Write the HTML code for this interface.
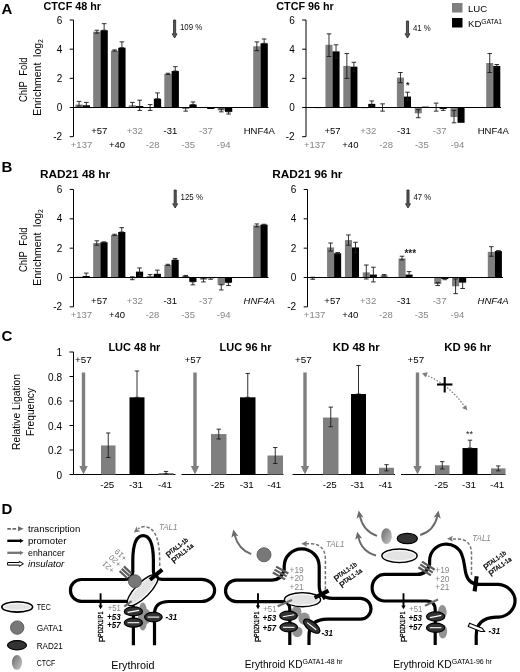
<!DOCTYPE html>
<html><head><meta charset="utf-8"><title>Figure</title>
<style>html,body{margin:0;padding:0;background:#fff}svg{display:block;will-change:transform}text{font-family:"Liberation Sans",sans-serif}</style></head>
<body>
<svg width="520" height="672" viewBox="0 0 520 672" font-family='"Liberation Sans", sans-serif'>
<rect width="520" height="672" fill="#fff"/>
<rect x="75.40" y="104.58" width="7.30" height="2.92" fill="#7f7f7f"/>
<line x1="79.05" y1="106.04" x2="79.05" y2="101.38" stroke="#1a1a1a" stroke-width="0.9" />
<line x1="76.75" y1="106.04" x2="81.35" y2="106.04" stroke="#1a1a1a" stroke-width="0.9" />
<line x1="76.75" y1="101.38" x2="81.35" y2="101.38" stroke="#1a1a1a" stroke-width="0.9" />
<rect x="82.70" y="105.31" width="7.30" height="2.19" fill="#000"/>
<line x1="86.35" y1="106.77" x2="86.35" y2="102.40" stroke="#1a1a1a" stroke-width="0.9" />
<line x1="84.05" y1="106.77" x2="88.65" y2="106.77" stroke="#1a1a1a" stroke-width="0.9" />
<line x1="84.05" y1="102.40" x2="88.65" y2="102.40" stroke="#1a1a1a" stroke-width="0.9" />
<rect x="93.18" y="31.68" width="7.30" height="75.82" fill="#7f7f7f"/>
<line x1="96.83" y1="33.14" x2="96.83" y2="30.23" stroke="#1a1a1a" stroke-width="0.9" />
<line x1="94.53" y1="33.14" x2="99.13" y2="33.14" stroke="#1a1a1a" stroke-width="0.9" />
<line x1="94.53" y1="30.23" x2="99.13" y2="30.23" stroke="#1a1a1a" stroke-width="0.9" />
<rect x="100.48" y="30.23" width="7.30" height="77.27" fill="#000"/>
<line x1="104.13" y1="30.23" x2="104.13" y2="23.67" stroke="#1a1a1a" stroke-width="0.9" />
<line x1="101.83" y1="30.23" x2="106.43" y2="30.23" stroke="#1a1a1a" stroke-width="0.9" />
<line x1="101.83" y1="23.67" x2="106.43" y2="23.67" stroke="#1a1a1a" stroke-width="0.9" />
<rect x="110.96" y="50.64" width="7.30" height="56.86" fill="#7f7f7f"/>
<line x1="114.61" y1="51.08" x2="114.61" y2="49.91" stroke="#1a1a1a" stroke-width="0.9" />
<line x1="112.31" y1="51.08" x2="116.91" y2="51.08" stroke="#1a1a1a" stroke-width="0.9" />
<line x1="112.31" y1="49.91" x2="116.91" y2="49.91" stroke="#1a1a1a" stroke-width="0.9" />
<rect x="118.26" y="47.72" width="7.30" height="59.78" fill="#000"/>
<line x1="121.91" y1="47.72" x2="121.91" y2="41.89" stroke="#1a1a1a" stroke-width="0.9" />
<line x1="119.61" y1="47.72" x2="124.21" y2="47.72" stroke="#1a1a1a" stroke-width="0.9" />
<line x1="119.61" y1="41.89" x2="124.21" y2="41.89" stroke="#1a1a1a" stroke-width="0.9" />
<rect x="128.74" y="105.31" width="7.30" height="2.19" fill="#7f7f7f"/>
<line x1="132.39" y1="107.50" x2="132.39" y2="102.40" stroke="#1a1a1a" stroke-width="0.9" />
<line x1="130.09" y1="107.50" x2="134.69" y2="107.50" stroke="#1a1a1a" stroke-width="0.9" />
<line x1="130.09" y1="102.40" x2="134.69" y2="102.40" stroke="#1a1a1a" stroke-width="0.9" />
<rect x="136.04" y="106.04" width="7.30" height="1.46" fill="#000"/>
<line x1="139.69" y1="110.42" x2="139.69" y2="100.21" stroke="#1a1a1a" stroke-width="0.9" />
<line x1="137.39" y1="110.42" x2="141.99" y2="110.42" stroke="#1a1a1a" stroke-width="0.9" />
<line x1="137.39" y1="100.21" x2="141.99" y2="100.21" stroke="#1a1a1a" stroke-width="0.9" />
<rect x="146.52" y="107.50" width="7.30" height="0.00" fill="#7f7f7f"/>
<line x1="150.17" y1="110.42" x2="150.17" y2="104.58" stroke="#1a1a1a" stroke-width="0.9" />
<line x1="147.87" y1="110.42" x2="152.47" y2="110.42" stroke="#1a1a1a" stroke-width="0.9" />
<line x1="147.87" y1="104.58" x2="152.47" y2="104.58" stroke="#1a1a1a" stroke-width="0.9" />
<rect x="153.82" y="98.75" width="7.30" height="8.75" fill="#000"/>
<line x1="157.47" y1="98.75" x2="157.47" y2="92.92" stroke="#1a1a1a" stroke-width="0.9" />
<line x1="155.17" y1="98.75" x2="159.77" y2="98.75" stroke="#1a1a1a" stroke-width="0.9" />
<line x1="155.17" y1="92.92" x2="159.77" y2="92.92" stroke="#1a1a1a" stroke-width="0.9" />
<rect x="164.30" y="73.97" width="7.30" height="33.53" fill="#7f7f7f"/>
<line x1="167.95" y1="74.40" x2="167.95" y2="73.24" stroke="#1a1a1a" stroke-width="0.9" />
<line x1="165.65" y1="74.40" x2="170.25" y2="74.40" stroke="#1a1a1a" stroke-width="0.9" />
<line x1="165.65" y1="73.24" x2="170.25" y2="73.24" stroke="#1a1a1a" stroke-width="0.9" />
<rect x="171.60" y="71.05" width="7.30" height="36.45" fill="#000"/>
<line x1="175.25" y1="71.05" x2="175.25" y2="66.68" stroke="#1a1a1a" stroke-width="0.9" />
<line x1="172.95" y1="71.05" x2="177.55" y2="71.05" stroke="#1a1a1a" stroke-width="0.9" />
<line x1="172.95" y1="66.68" x2="177.55" y2="66.68" stroke="#1a1a1a" stroke-width="0.9" />
<rect x="182.08" y="107.50" width="7.30" height="1.46" fill="#7f7f7f"/>
<line x1="185.73" y1="111.14" x2="185.73" y2="107.50" stroke="#1a1a1a" stroke-width="0.9" />
<line x1="183.43" y1="111.14" x2="188.03" y2="111.14" stroke="#1a1a1a" stroke-width="0.9" />
<line x1="183.43" y1="107.50" x2="188.03" y2="107.50" stroke="#1a1a1a" stroke-width="0.9" />
<rect x="189.38" y="104.58" width="7.30" height="2.92" fill="#000"/>
<line x1="193.03" y1="104.58" x2="193.03" y2="101.96" stroke="#1a1a1a" stroke-width="0.9" />
<line x1="190.73" y1="104.58" x2="195.33" y2="104.58" stroke="#1a1a1a" stroke-width="0.9" />
<line x1="190.73" y1="101.96" x2="195.33" y2="101.96" stroke="#1a1a1a" stroke-width="0.9" />
<rect x="199.86" y="107.50" width="7.30" height="0.58" fill="#7f7f7f"/>
<rect x="207.16" y="107.50" width="7.30" height="1.46" fill="#000"/>
<rect x="217.64" y="107.50" width="7.30" height="2.92" fill="#7f7f7f"/>
<line x1="221.29" y1="111.87" x2="221.29" y2="108.96" stroke="#1a1a1a" stroke-width="0.9" />
<line x1="218.99" y1="111.87" x2="223.59" y2="111.87" stroke="#1a1a1a" stroke-width="0.9" />
<line x1="218.99" y1="108.96" x2="223.59" y2="108.96" stroke="#1a1a1a" stroke-width="0.9" />
<rect x="224.94" y="107.50" width="7.30" height="4.37" fill="#000"/>
<line x1="228.59" y1="114.06" x2="228.59" y2="111.87" stroke="#1a1a1a" stroke-width="0.9" />
<line x1="226.29" y1="114.06" x2="230.89" y2="114.06" stroke="#1a1a1a" stroke-width="0.9" />
<line x1="226.29" y1="111.87" x2="230.89" y2="111.87" stroke="#1a1a1a" stroke-width="0.9" />
<rect x="253.20" y="46.26" width="7.30" height="61.24" fill="#7f7f7f"/>
<line x1="256.85" y1="50.64" x2="256.85" y2="41.89" stroke="#1a1a1a" stroke-width="0.9" />
<line x1="254.55" y1="50.64" x2="259.15" y2="50.64" stroke="#1a1a1a" stroke-width="0.9" />
<line x1="254.55" y1="41.89" x2="259.15" y2="41.89" stroke="#1a1a1a" stroke-width="0.9" />
<rect x="260.50" y="43.35" width="7.30" height="64.15" fill="#000"/>
<line x1="264.15" y1="43.35" x2="264.15" y2="38.97" stroke="#1a1a1a" stroke-width="0.9" />
<line x1="261.85" y1="43.35" x2="266.45" y2="43.35" stroke="#1a1a1a" stroke-width="0.9" />
<line x1="261.85" y1="38.97" x2="266.45" y2="38.97" stroke="#1a1a1a" stroke-width="0.9" />
<line x1="73.50" y1="20.02" x2="73.50" y2="136.66" stroke="#000" stroke-width="1" />
<line x1="73.50" y1="107.50" x2="268.50" y2="107.50" stroke="#000" stroke-width="1" />
<line x1="69.70" y1="20.02" x2="73.50" y2="20.02" stroke="#000" stroke-width="1" />
<text x="62.20" y="23.62" font-size="10" fill="#000" text-anchor="end" font-weight="normal" font-style="normal" >6</text>
<line x1="69.70" y1="49.18" x2="73.50" y2="49.18" stroke="#000" stroke-width="1" />
<text x="62.20" y="52.78" font-size="10" fill="#000" text-anchor="end" font-weight="normal" font-style="normal" >4</text>
<line x1="69.70" y1="78.34" x2="73.50" y2="78.34" stroke="#000" stroke-width="1" />
<text x="62.20" y="81.94" font-size="10" fill="#000" text-anchor="end" font-weight="normal" font-style="normal" >2</text>
<line x1="69.70" y1="107.50" x2="73.50" y2="107.50" stroke="#000" stroke-width="1" />
<text x="62.20" y="111.10" font-size="10" fill="#000" text-anchor="end" font-weight="normal" font-style="normal" >0</text>
<line x1="69.70" y1="136.66" x2="73.50" y2="136.66" stroke="#000" stroke-width="1" />
<text x="62.20" y="140.26" font-size="10" fill="#000" text-anchor="end" font-weight="normal" font-style="normal" >-2</text>
<text x="81.50" y="147.70" font-size="9.5" fill="#868686" text-anchor="middle" font-weight="normal" font-style="normal" >+137</text>
<text x="99.28" y="133.70" font-size="9.5" fill="#000" text-anchor="middle" font-weight="normal" font-style="normal" >+57</text>
<text x="117.06" y="147.70" font-size="9.5" fill="#000" text-anchor="middle" font-weight="normal" font-style="normal" >+40</text>
<text x="134.84" y="133.70" font-size="9.5" fill="#868686" text-anchor="middle" font-weight="normal" font-style="normal" >+32</text>
<text x="152.62" y="147.70" font-size="9.5" fill="#868686" text-anchor="middle" font-weight="normal" font-style="normal" >-28</text>
<text x="170.40" y="133.70" font-size="9.5" fill="#000" text-anchor="middle" font-weight="normal" font-style="normal" >-31</text>
<text x="188.18" y="147.70" font-size="9.5" fill="#868686" text-anchor="middle" font-weight="normal" font-style="normal" >-35</text>
<text x="205.96" y="133.70" font-size="9.5" fill="#868686" text-anchor="middle" font-weight="normal" font-style="normal" >-37</text>
<text x="223.74" y="147.70" font-size="9.5" fill="#868686" text-anchor="middle" font-weight="normal" font-style="normal" >-94</text>
<text x="259.30" y="133.70" font-size="9.5" fill="#000" text-anchor="middle" font-weight="normal" font-style="normal" >HNF4A</text>
<rect x="314.65" y="107.50" width="7.05" height="0.58" fill="#000"/>
<rect x="325.46" y="44.81" width="7.05" height="62.69" fill="#7f7f7f"/>
<line x1="328.99" y1="56.47" x2="328.99" y2="33.87" stroke="#1a1a1a" stroke-width="0.9" />
<line x1="326.69" y1="56.47" x2="331.29" y2="56.47" stroke="#1a1a1a" stroke-width="0.9" />
<line x1="326.69" y1="33.87" x2="331.29" y2="33.87" stroke="#1a1a1a" stroke-width="0.9" />
<rect x="332.51" y="51.37" width="7.05" height="56.13" fill="#000"/>
<line x1="336.04" y1="57.93" x2="336.04" y2="44.81" stroke="#1a1a1a" stroke-width="0.9" />
<line x1="333.74" y1="57.93" x2="338.34" y2="57.93" stroke="#1a1a1a" stroke-width="0.9" />
<line x1="333.74" y1="44.81" x2="338.34" y2="44.81" stroke="#1a1a1a" stroke-width="0.9" />
<rect x="343.32" y="65.95" width="7.05" height="41.55" fill="#7f7f7f"/>
<line x1="346.85" y1="78.34" x2="346.85" y2="53.55" stroke="#1a1a1a" stroke-width="0.9" />
<line x1="344.55" y1="78.34" x2="349.15" y2="78.34" stroke="#1a1a1a" stroke-width="0.9" />
<line x1="344.55" y1="53.55" x2="349.15" y2="53.55" stroke="#1a1a1a" stroke-width="0.9" />
<rect x="350.37" y="66.68" width="7.05" height="40.82" fill="#000"/>
<line x1="353.90" y1="71.05" x2="353.90" y2="62.30" stroke="#1a1a1a" stroke-width="0.9" />
<line x1="351.60" y1="71.05" x2="356.20" y2="71.05" stroke="#1a1a1a" stroke-width="0.9" />
<line x1="351.60" y1="62.30" x2="356.20" y2="62.30" stroke="#1a1a1a" stroke-width="0.9" />
<rect x="361.18" y="107.50" width="7.05" height="0.73" fill="#7f7f7f"/>
<rect x="368.23" y="103.86" width="7.05" height="3.64" fill="#000"/>
<line x1="371.75" y1="106.04" x2="371.75" y2="100.94" stroke="#1a1a1a" stroke-width="0.9" />
<line x1="369.45" y1="106.04" x2="374.06" y2="106.04" stroke="#1a1a1a" stroke-width="0.9" />
<line x1="369.45" y1="100.94" x2="374.06" y2="100.94" stroke="#1a1a1a" stroke-width="0.9" />
<rect x="379.04" y="107.50" width="7.05" height="0.00" fill="#7f7f7f"/>
<line x1="382.56" y1="111.14" x2="382.56" y2="103.86" stroke="#1a1a1a" stroke-width="0.9" />
<line x1="380.26" y1="111.14" x2="384.87" y2="111.14" stroke="#1a1a1a" stroke-width="0.9" />
<line x1="380.26" y1="103.86" x2="384.87" y2="103.86" stroke="#1a1a1a" stroke-width="0.9" />
<rect x="386.09" y="107.50" width="7.05" height="0.44" fill="#000"/>
<rect x="396.90" y="77.61" width="7.05" height="29.89" fill="#7f7f7f"/>
<line x1="400.43" y1="82.71" x2="400.43" y2="72.51" stroke="#1a1a1a" stroke-width="0.9" />
<line x1="398.12" y1="82.71" x2="402.73" y2="82.71" stroke="#1a1a1a" stroke-width="0.9" />
<line x1="398.12" y1="72.51" x2="402.73" y2="72.51" stroke="#1a1a1a" stroke-width="0.9" />
<rect x="403.95" y="96.56" width="7.05" height="10.94" fill="#000"/>
<line x1="407.48" y1="100.21" x2="407.48" y2="92.19" stroke="#1a1a1a" stroke-width="0.9" />
<line x1="405.18" y1="100.21" x2="409.78" y2="100.21" stroke="#1a1a1a" stroke-width="0.9" />
<line x1="405.18" y1="92.19" x2="409.78" y2="92.19" stroke="#1a1a1a" stroke-width="0.9" />
<rect x="414.76" y="107.50" width="7.05" height="5.83" fill="#7f7f7f"/>
<line x1="418.28" y1="117.71" x2="418.28" y2="109.69" stroke="#1a1a1a" stroke-width="0.9" />
<line x1="415.98" y1="117.71" x2="420.58" y2="117.71" stroke="#1a1a1a" stroke-width="0.9" />
<line x1="415.98" y1="109.69" x2="420.58" y2="109.69" stroke="#1a1a1a" stroke-width="0.9" />
<rect x="421.81" y="106.63" width="7.05" height="0.87" fill="#000"/>
<rect x="432.62" y="107.50" width="7.05" height="0.00" fill="#7f7f7f"/>
<line x1="436.14" y1="111.14" x2="436.14" y2="103.13" stroke="#1a1a1a" stroke-width="0.9" />
<line x1="433.84" y1="111.14" x2="438.44" y2="111.14" stroke="#1a1a1a" stroke-width="0.9" />
<line x1="433.84" y1="103.13" x2="438.44" y2="103.13" stroke="#1a1a1a" stroke-width="0.9" />
<rect x="439.67" y="107.50" width="7.05" height="1.46" fill="#000"/>
<line x1="443.19" y1="110.42" x2="443.19" y2="107.50" stroke="#1a1a1a" stroke-width="0.9" />
<line x1="440.89" y1="110.42" x2="445.50" y2="110.42" stroke="#1a1a1a" stroke-width="0.9" />
<line x1="440.89" y1="107.50" x2="445.50" y2="107.50" stroke="#1a1a1a" stroke-width="0.9" />
<rect x="450.48" y="107.50" width="7.05" height="9.48" fill="#7f7f7f"/>
<line x1="454.00" y1="122.81" x2="454.00" y2="110.42" stroke="#1a1a1a" stroke-width="0.9" />
<line x1="451.70" y1="122.81" x2="456.31" y2="122.81" stroke="#1a1a1a" stroke-width="0.9" />
<line x1="451.70" y1="110.42" x2="456.31" y2="110.42" stroke="#1a1a1a" stroke-width="0.9" />
<rect x="457.53" y="107.50" width="7.05" height="15.31" fill="#000"/>
<rect x="486.20" y="63.03" width="7.05" height="44.47" fill="#7f7f7f"/>
<line x1="489.73" y1="72.51" x2="489.73" y2="53.55" stroke="#1a1a1a" stroke-width="0.9" />
<line x1="487.43" y1="72.51" x2="492.03" y2="72.51" stroke="#1a1a1a" stroke-width="0.9" />
<line x1="487.43" y1="53.55" x2="492.03" y2="53.55" stroke="#1a1a1a" stroke-width="0.9" />
<rect x="493.25" y="65.95" width="7.05" height="41.55" fill="#000"/>
<line x1="496.78" y1="67.41" x2="496.78" y2="64.49" stroke="#1a1a1a" stroke-width="0.9" />
<line x1="494.48" y1="67.41" x2="499.08" y2="67.41" stroke="#1a1a1a" stroke-width="0.9" />
<line x1="494.48" y1="64.49" x2="499.08" y2="64.49" stroke="#1a1a1a" stroke-width="0.9" />
<line x1="306.00" y1="20.02" x2="306.00" y2="136.66" stroke="#000" stroke-width="1" />
<line x1="306.00" y1="107.50" x2="501.00" y2="107.50" stroke="#000" stroke-width="1" />
<line x1="302.20" y1="20.02" x2="306.00" y2="20.02" stroke="#000" stroke-width="1" />
<text x="294.70" y="23.62" font-size="10" fill="#000" text-anchor="end" font-weight="normal" font-style="normal" >6</text>
<line x1="302.20" y1="49.18" x2="306.00" y2="49.18" stroke="#000" stroke-width="1" />
<text x="294.70" y="52.78" font-size="10" fill="#000" text-anchor="end" font-weight="normal" font-style="normal" >4</text>
<line x1="302.20" y1="78.34" x2="306.00" y2="78.34" stroke="#000" stroke-width="1" />
<text x="294.70" y="81.94" font-size="10" fill="#000" text-anchor="end" font-weight="normal" font-style="normal" >2</text>
<line x1="302.20" y1="107.50" x2="306.00" y2="107.50" stroke="#000" stroke-width="1" />
<text x="294.70" y="111.10" font-size="10" fill="#000" text-anchor="end" font-weight="normal" font-style="normal" >0</text>
<line x1="302.20" y1="136.66" x2="306.00" y2="136.66" stroke="#000" stroke-width="1" />
<text x="294.70" y="140.26" font-size="10" fill="#000" text-anchor="end" font-weight="normal" font-style="normal" >-2</text>
<text x="314.65" y="147.70" font-size="9.5" fill="#868686" text-anchor="middle" font-weight="normal" font-style="normal" >+137</text>
<text x="332.51" y="133.70" font-size="9.5" fill="#000" text-anchor="middle" font-weight="normal" font-style="normal" >+57</text>
<text x="350.37" y="147.70" font-size="9.5" fill="#000" text-anchor="middle" font-weight="normal" font-style="normal" >+40</text>
<text x="368.23" y="133.70" font-size="9.5" fill="#868686" text-anchor="middle" font-weight="normal" font-style="normal" >+32</text>
<text x="386.09" y="147.70" font-size="9.5" fill="#868686" text-anchor="middle" font-weight="normal" font-style="normal" >-28</text>
<text x="403.95" y="133.70" font-size="9.5" fill="#000" text-anchor="middle" font-weight="normal" font-style="normal" >-31</text>
<text x="421.81" y="147.70" font-size="9.5" fill="#868686" text-anchor="middle" font-weight="normal" font-style="normal" >-35</text>
<text x="439.67" y="133.70" font-size="9.5" fill="#868686" text-anchor="middle" font-weight="normal" font-style="normal" >-37</text>
<text x="457.53" y="147.70" font-size="9.5" fill="#868686" text-anchor="middle" font-weight="normal" font-style="normal" >-94</text>
<text x="493.25" y="133.70" font-size="9.5" fill="#000" text-anchor="middle" font-weight="normal" font-style="normal" >HNF4A</text>
<rect x="75.40" y="276.77" width="7.20" height="0.73" fill="#7f7f7f"/>
<rect x="82.60" y="276.03" width="7.20" height="1.47" fill="#000"/>
<line x1="86.20" y1="277.50" x2="86.20" y2="273.10" stroke="#1a1a1a" stroke-width="0.9" />
<line x1="83.90" y1="277.50" x2="88.50" y2="277.50" stroke="#1a1a1a" stroke-width="0.9" />
<line x1="83.90" y1="273.10" x2="88.50" y2="273.10" stroke="#1a1a1a" stroke-width="0.9" />
<rect x="93.18" y="243.03" width="7.20" height="34.47" fill="#7f7f7f"/>
<line x1="96.78" y1="245.23" x2="96.78" y2="240.82" stroke="#1a1a1a" stroke-width="0.9" />
<line x1="94.48" y1="245.23" x2="99.08" y2="245.23" stroke="#1a1a1a" stroke-width="0.9" />
<line x1="94.48" y1="240.82" x2="99.08" y2="240.82" stroke="#1a1a1a" stroke-width="0.9" />
<rect x="100.38" y="242.29" width="7.20" height="35.21" fill="#000"/>
<line x1="103.98" y1="242.73" x2="103.98" y2="241.85" stroke="#1a1a1a" stroke-width="0.9" />
<line x1="101.68" y1="242.73" x2="106.28" y2="242.73" stroke="#1a1a1a" stroke-width="0.9" />
<line x1="101.68" y1="241.85" x2="106.28" y2="241.85" stroke="#1a1a1a" stroke-width="0.9" />
<rect x="110.96" y="234.96" width="7.20" height="42.54" fill="#7f7f7f"/>
<line x1="114.56" y1="235.40" x2="114.56" y2="234.22" stroke="#1a1a1a" stroke-width="0.9" />
<line x1="112.26" y1="235.40" x2="116.86" y2="235.40" stroke="#1a1a1a" stroke-width="0.9" />
<line x1="112.26" y1="234.22" x2="116.86" y2="234.22" stroke="#1a1a1a" stroke-width="0.9" />
<rect x="118.16" y="232.02" width="7.20" height="45.48" fill="#000"/>
<line x1="121.76" y1="232.02" x2="121.76" y2="227.62" stroke="#1a1a1a" stroke-width="0.9" />
<line x1="119.46" y1="232.02" x2="124.06" y2="232.02" stroke="#1a1a1a" stroke-width="0.9" />
<line x1="119.46" y1="227.62" x2="124.06" y2="227.62" stroke="#1a1a1a" stroke-width="0.9" />
<rect x="128.74" y="277.50" width="7.20" height="0.73" fill="#7f7f7f"/>
<line x1="132.34" y1="279.70" x2="132.34" y2="276.77" stroke="#1a1a1a" stroke-width="0.9" />
<line x1="130.04" y1="279.70" x2="134.64" y2="279.70" stroke="#1a1a1a" stroke-width="0.9" />
<line x1="130.04" y1="276.77" x2="134.64" y2="276.77" stroke="#1a1a1a" stroke-width="0.9" />
<rect x="135.94" y="271.63" width="7.20" height="5.87" fill="#000"/>
<line x1="139.54" y1="276.03" x2="139.54" y2="267.96" stroke="#1a1a1a" stroke-width="0.9" />
<line x1="137.24" y1="276.03" x2="141.84" y2="276.03" stroke="#1a1a1a" stroke-width="0.9" />
<line x1="137.24" y1="267.96" x2="141.84" y2="267.96" stroke="#1a1a1a" stroke-width="0.9" />
<rect x="146.52" y="276.03" width="7.20" height="1.47" fill="#7f7f7f"/>
<line x1="150.12" y1="277.50" x2="150.12" y2="274.57" stroke="#1a1a1a" stroke-width="0.9" />
<line x1="147.82" y1="277.50" x2="152.42" y2="277.50" stroke="#1a1a1a" stroke-width="0.9" />
<line x1="147.82" y1="274.57" x2="152.42" y2="274.57" stroke="#1a1a1a" stroke-width="0.9" />
<rect x="153.72" y="273.83" width="7.20" height="3.67" fill="#000"/>
<line x1="157.32" y1="277.50" x2="157.32" y2="270.17" stroke="#1a1a1a" stroke-width="0.9" />
<line x1="155.02" y1="277.50" x2="159.62" y2="277.50" stroke="#1a1a1a" stroke-width="0.9" />
<line x1="155.02" y1="270.17" x2="159.62" y2="270.17" stroke="#1a1a1a" stroke-width="0.9" />
<rect x="164.30" y="265.03" width="7.20" height="12.47" fill="#7f7f7f"/>
<line x1="167.90" y1="265.47" x2="167.90" y2="264.30" stroke="#1a1a1a" stroke-width="0.9" />
<line x1="165.60" y1="265.47" x2="170.20" y2="265.47" stroke="#1a1a1a" stroke-width="0.9" />
<line x1="165.60" y1="264.30" x2="170.20" y2="264.30" stroke="#1a1a1a" stroke-width="0.9" />
<rect x="171.50" y="259.90" width="7.20" height="17.60" fill="#000"/>
<line x1="175.10" y1="259.90" x2="175.10" y2="258.43" stroke="#1a1a1a" stroke-width="0.9" />
<line x1="172.80" y1="259.90" x2="177.40" y2="259.90" stroke="#1a1a1a" stroke-width="0.9" />
<line x1="172.80" y1="258.43" x2="177.40" y2="258.43" stroke="#1a1a1a" stroke-width="0.9" />
<rect x="182.08" y="276.03" width="7.20" height="1.47" fill="#7f7f7f"/>
<line x1="185.68" y1="276.33" x2="185.68" y2="275.45" stroke="#1a1a1a" stroke-width="0.9" />
<line x1="183.38" y1="276.33" x2="187.98" y2="276.33" stroke="#1a1a1a" stroke-width="0.9" />
<line x1="183.38" y1="275.45" x2="187.98" y2="275.45" stroke="#1a1a1a" stroke-width="0.9" />
<rect x="189.28" y="277.50" width="7.20" height="4.40" fill="#000"/>
<line x1="192.88" y1="284.83" x2="192.88" y2="281.90" stroke="#1a1a1a" stroke-width="0.9" />
<line x1="190.58" y1="284.83" x2="195.18" y2="284.83" stroke="#1a1a1a" stroke-width="0.9" />
<line x1="190.58" y1="281.90" x2="195.18" y2="281.90" stroke="#1a1a1a" stroke-width="0.9" />
<rect x="199.86" y="277.50" width="7.20" height="2.20" fill="#7f7f7f"/>
<line x1="203.46" y1="281.90" x2="203.46" y2="278.23" stroke="#1a1a1a" stroke-width="0.9" />
<line x1="201.16" y1="281.90" x2="205.76" y2="281.90" stroke="#1a1a1a" stroke-width="0.9" />
<line x1="201.16" y1="278.23" x2="205.76" y2="278.23" stroke="#1a1a1a" stroke-width="0.9" />
<rect x="207.06" y="277.50" width="7.20" height="0.73" fill="#000"/>
<line x1="210.66" y1="279.26" x2="210.66" y2="277.50" stroke="#1a1a1a" stroke-width="0.9" />
<line x1="208.36" y1="279.26" x2="212.96" y2="279.26" stroke="#1a1a1a" stroke-width="0.9" />
<line x1="208.36" y1="277.50" x2="212.96" y2="277.50" stroke="#1a1a1a" stroke-width="0.9" />
<rect x="217.64" y="277.50" width="7.20" height="7.33" fill="#7f7f7f"/>
<line x1="221.24" y1="289.97" x2="221.24" y2="284.83" stroke="#1a1a1a" stroke-width="0.9" />
<line x1="218.94" y1="289.97" x2="223.54" y2="289.97" stroke="#1a1a1a" stroke-width="0.9" />
<line x1="218.94" y1="284.83" x2="223.54" y2="284.83" stroke="#1a1a1a" stroke-width="0.9" />
<rect x="224.84" y="277.50" width="7.20" height="5.13" fill="#000"/>
<line x1="228.44" y1="285.57" x2="228.44" y2="282.63" stroke="#1a1a1a" stroke-width="0.9" />
<line x1="226.14" y1="285.57" x2="230.74" y2="285.57" stroke="#1a1a1a" stroke-width="0.9" />
<line x1="226.14" y1="282.63" x2="230.74" y2="282.63" stroke="#1a1a1a" stroke-width="0.9" />
<rect x="253.20" y="225.42" width="7.20" height="52.08" fill="#7f7f7f"/>
<line x1="256.80" y1="226.89" x2="256.80" y2="223.95" stroke="#1a1a1a" stroke-width="0.9" />
<line x1="254.50" y1="226.89" x2="259.10" y2="226.89" stroke="#1a1a1a" stroke-width="0.9" />
<line x1="254.50" y1="223.95" x2="259.10" y2="223.95" stroke="#1a1a1a" stroke-width="0.9" />
<rect x="260.40" y="224.69" width="7.20" height="52.81" fill="#000"/>
<line x1="264.00" y1="225.13" x2="264.00" y2="224.25" stroke="#1a1a1a" stroke-width="0.9" />
<line x1="261.70" y1="225.13" x2="266.30" y2="225.13" stroke="#1a1a1a" stroke-width="0.9" />
<line x1="261.70" y1="224.25" x2="266.30" y2="224.25" stroke="#1a1a1a" stroke-width="0.9" />
<line x1="73.50" y1="189.48" x2="73.50" y2="306.84" stroke="#000" stroke-width="1" />
<line x1="73.50" y1="277.50" x2="268.50" y2="277.50" stroke="#000" stroke-width="1" />
<line x1="69.70" y1="189.48" x2="73.50" y2="189.48" stroke="#000" stroke-width="1" />
<text x="62.20" y="193.08" font-size="10" fill="#000" text-anchor="end" font-weight="normal" font-style="normal" >6</text>
<line x1="69.70" y1="218.82" x2="73.50" y2="218.82" stroke="#000" stroke-width="1" />
<text x="62.20" y="222.42" font-size="10" fill="#000" text-anchor="end" font-weight="normal" font-style="normal" >4</text>
<line x1="69.70" y1="248.16" x2="73.50" y2="248.16" stroke="#000" stroke-width="1" />
<text x="62.20" y="251.76" font-size="10" fill="#000" text-anchor="end" font-weight="normal" font-style="normal" >2</text>
<line x1="69.70" y1="277.50" x2="73.50" y2="277.50" stroke="#000" stroke-width="1" />
<text x="62.20" y="281.10" font-size="10" fill="#000" text-anchor="end" font-weight="normal" font-style="normal" >0</text>
<line x1="69.70" y1="306.84" x2="73.50" y2="306.84" stroke="#000" stroke-width="1" />
<text x="62.20" y="310.44" font-size="10" fill="#000" text-anchor="end" font-weight="normal" font-style="normal" >-2</text>
<text x="81.40" y="317.70" font-size="9.5" fill="#868686" text-anchor="middle" font-weight="normal" font-style="normal" >+137</text>
<text x="99.18" y="303.70" font-size="9.5" fill="#000" text-anchor="middle" font-weight="normal" font-style="normal" >+57</text>
<text x="116.96" y="317.70" font-size="9.5" fill="#000" text-anchor="middle" font-weight="normal" font-style="normal" >+40</text>
<text x="134.74" y="303.70" font-size="9.5" fill="#868686" text-anchor="middle" font-weight="normal" font-style="normal" >+32</text>
<text x="152.52" y="317.70" font-size="9.5" fill="#868686" text-anchor="middle" font-weight="normal" font-style="normal" >-28</text>
<text x="170.30" y="303.70" font-size="9.5" fill="#000" text-anchor="middle" font-weight="normal" font-style="normal" >-31</text>
<text x="188.08" y="317.70" font-size="9.5" fill="#868686" text-anchor="middle" font-weight="normal" font-style="normal" >-35</text>
<text x="205.86" y="303.70" font-size="9.5" fill="#868686" text-anchor="middle" font-weight="normal" font-style="normal" >-37</text>
<text x="223.64" y="317.70" font-size="9.5" fill="#868686" text-anchor="middle" font-weight="normal" font-style="normal" >-94</text>
<text x="259.20" y="303.70" font-size="9.5" fill="#000" text-anchor="middle" font-weight="normal" font-style="italic" >HNF4A</text>
<rect x="309.20" y="277.50" width="7.05" height="0.73" fill="#7f7f7f"/>
<line x1="312.72" y1="279.26" x2="312.72" y2="277.21" stroke="#1a1a1a" stroke-width="0.9" />
<line x1="310.42" y1="279.26" x2="315.02" y2="279.26" stroke="#1a1a1a" stroke-width="0.9" />
<line x1="310.42" y1="277.21" x2="315.02" y2="277.21" stroke="#1a1a1a" stroke-width="0.9" />
<rect x="327.06" y="247.43" width="7.05" height="30.07" fill="#7f7f7f"/>
<line x1="330.58" y1="251.09" x2="330.58" y2="243.03" stroke="#1a1a1a" stroke-width="0.9" />
<line x1="328.28" y1="251.09" x2="332.88" y2="251.09" stroke="#1a1a1a" stroke-width="0.9" />
<line x1="328.28" y1="243.03" x2="332.88" y2="243.03" stroke="#1a1a1a" stroke-width="0.9" />
<rect x="334.11" y="253.29" width="7.05" height="24.21" fill="#000"/>
<line x1="337.63" y1="254.03" x2="337.63" y2="252.56" stroke="#1a1a1a" stroke-width="0.9" />
<line x1="335.33" y1="254.03" x2="339.94" y2="254.03" stroke="#1a1a1a" stroke-width="0.9" />
<line x1="335.33" y1="252.56" x2="339.94" y2="252.56" stroke="#1a1a1a" stroke-width="0.9" />
<rect x="344.92" y="240.09" width="7.05" height="37.41" fill="#7f7f7f"/>
<line x1="348.44" y1="245.23" x2="348.44" y2="234.96" stroke="#1a1a1a" stroke-width="0.9" />
<line x1="346.14" y1="245.23" x2="350.74" y2="245.23" stroke="#1a1a1a" stroke-width="0.9" />
<line x1="346.14" y1="234.96" x2="350.74" y2="234.96" stroke="#1a1a1a" stroke-width="0.9" />
<rect x="351.97" y="247.43" width="7.05" height="30.07" fill="#000"/>
<line x1="355.49" y1="252.56" x2="355.49" y2="242.29" stroke="#1a1a1a" stroke-width="0.9" />
<line x1="353.19" y1="252.56" x2="357.79" y2="252.56" stroke="#1a1a1a" stroke-width="0.9" />
<line x1="353.19" y1="242.29" x2="357.79" y2="242.29" stroke="#1a1a1a" stroke-width="0.9" />
<rect x="362.78" y="272.37" width="7.05" height="5.13" fill="#7f7f7f"/>
<line x1="366.30" y1="278.97" x2="366.30" y2="265.03" stroke="#1a1a1a" stroke-width="0.9" />
<line x1="364.00" y1="278.97" x2="368.60" y2="278.97" stroke="#1a1a1a" stroke-width="0.9" />
<line x1="364.00" y1="265.03" x2="368.60" y2="265.03" stroke="#1a1a1a" stroke-width="0.9" />
<rect x="369.83" y="274.57" width="7.05" height="2.93" fill="#000"/>
<line x1="373.35" y1="281.90" x2="373.35" y2="267.23" stroke="#1a1a1a" stroke-width="0.9" />
<line x1="371.05" y1="281.90" x2="375.65" y2="281.90" stroke="#1a1a1a" stroke-width="0.9" />
<line x1="371.05" y1="267.23" x2="375.65" y2="267.23" stroke="#1a1a1a" stroke-width="0.9" />
<rect x="380.64" y="275.30" width="7.05" height="2.20" fill="#7f7f7f"/>
<line x1="384.16" y1="276.03" x2="384.16" y2="274.57" stroke="#1a1a1a" stroke-width="0.9" />
<line x1="381.86" y1="276.03" x2="386.46" y2="276.03" stroke="#1a1a1a" stroke-width="0.9" />
<line x1="381.86" y1="274.57" x2="386.46" y2="274.57" stroke="#1a1a1a" stroke-width="0.9" />
<rect x="387.69" y="277.50" width="7.05" height="0.00" fill="#000"/>
<rect x="398.50" y="258.43" width="7.05" height="19.07" fill="#7f7f7f"/>
<line x1="402.02" y1="259.90" x2="402.02" y2="256.23" stroke="#1a1a1a" stroke-width="0.9" />
<line x1="399.72" y1="259.90" x2="404.32" y2="259.90" stroke="#1a1a1a" stroke-width="0.9" />
<line x1="399.72" y1="256.23" x2="404.32" y2="256.23" stroke="#1a1a1a" stroke-width="0.9" />
<rect x="405.55" y="274.57" width="7.05" height="2.93" fill="#000"/>
<line x1="409.07" y1="277.50" x2="409.07" y2="271.63" stroke="#1a1a1a" stroke-width="0.9" />
<line x1="406.77" y1="277.50" x2="411.38" y2="277.50" stroke="#1a1a1a" stroke-width="0.9" />
<line x1="406.77" y1="271.63" x2="411.38" y2="271.63" stroke="#1a1a1a" stroke-width="0.9" />
<rect x="434.22" y="277.50" width="7.05" height="6.60" fill="#7f7f7f"/>
<line x1="437.74" y1="285.57" x2="437.74" y2="282.63" stroke="#1a1a1a" stroke-width="0.9" />
<line x1="435.44" y1="285.57" x2="440.04" y2="285.57" stroke="#1a1a1a" stroke-width="0.9" />
<line x1="435.44" y1="282.63" x2="440.04" y2="282.63" stroke="#1a1a1a" stroke-width="0.9" />
<rect x="441.27" y="277.50" width="7.05" height="1.47" fill="#000"/>
<line x1="444.79" y1="279.70" x2="444.79" y2="278.23" stroke="#1a1a1a" stroke-width="0.9" />
<line x1="442.49" y1="279.70" x2="447.09" y2="279.70" stroke="#1a1a1a" stroke-width="0.9" />
<line x1="442.49" y1="278.23" x2="447.09" y2="278.23" stroke="#1a1a1a" stroke-width="0.9" />
<rect x="452.08" y="277.50" width="7.05" height="8.80" fill="#7f7f7f"/>
<line x1="455.60" y1="293.64" x2="455.60" y2="278.97" stroke="#1a1a1a" stroke-width="0.9" />
<line x1="453.30" y1="293.64" x2="457.90" y2="293.64" stroke="#1a1a1a" stroke-width="0.9" />
<line x1="453.30" y1="278.97" x2="457.90" y2="278.97" stroke="#1a1a1a" stroke-width="0.9" />
<rect x="459.13" y="277.50" width="7.05" height="5.13" fill="#000"/>
<line x1="462.65" y1="288.50" x2="462.65" y2="277.50" stroke="#1a1a1a" stroke-width="0.9" />
<line x1="460.35" y1="288.50" x2="464.95" y2="288.50" stroke="#1a1a1a" stroke-width="0.9" />
<line x1="460.35" y1="277.50" x2="464.95" y2="277.50" stroke="#1a1a1a" stroke-width="0.9" />
<rect x="487.80" y="251.83" width="7.05" height="25.67" fill="#7f7f7f"/>
<line x1="491.32" y1="256.23" x2="491.32" y2="246.69" stroke="#1a1a1a" stroke-width="0.9" />
<line x1="489.02" y1="256.23" x2="493.62" y2="256.23" stroke="#1a1a1a" stroke-width="0.9" />
<line x1="489.02" y1="246.69" x2="493.62" y2="246.69" stroke="#1a1a1a" stroke-width="0.9" />
<rect x="494.85" y="251.09" width="7.05" height="26.41" fill="#000"/>
<line x1="498.37" y1="251.39" x2="498.37" y2="250.65" stroke="#1a1a1a" stroke-width="0.9" />
<line x1="496.07" y1="251.39" x2="500.67" y2="251.39" stroke="#1a1a1a" stroke-width="0.9" />
<line x1="496.07" y1="250.65" x2="500.67" y2="250.65" stroke="#1a1a1a" stroke-width="0.9" />
<line x1="307.50" y1="189.48" x2="307.50" y2="306.84" stroke="#000" stroke-width="1" />
<line x1="307.50" y1="277.50" x2="503.00" y2="277.50" stroke="#000" stroke-width="1" />
<line x1="303.70" y1="189.48" x2="307.50" y2="189.48" stroke="#000" stroke-width="1" />
<text x="296.20" y="193.08" font-size="10" fill="#000" text-anchor="end" font-weight="normal" font-style="normal" >6</text>
<line x1="303.70" y1="218.82" x2="307.50" y2="218.82" stroke="#000" stroke-width="1" />
<text x="296.20" y="222.42" font-size="10" fill="#000" text-anchor="end" font-weight="normal" font-style="normal" >4</text>
<line x1="303.70" y1="248.16" x2="307.50" y2="248.16" stroke="#000" stroke-width="1" />
<text x="296.20" y="251.76" font-size="10" fill="#000" text-anchor="end" font-weight="normal" font-style="normal" >2</text>
<line x1="303.70" y1="277.50" x2="307.50" y2="277.50" stroke="#000" stroke-width="1" />
<text x="296.20" y="281.10" font-size="10" fill="#000" text-anchor="end" font-weight="normal" font-style="normal" >0</text>
<line x1="303.70" y1="306.84" x2="307.50" y2="306.84" stroke="#000" stroke-width="1" />
<text x="296.20" y="310.44" font-size="10" fill="#000" text-anchor="end" font-weight="normal" font-style="normal" >-2</text>
<text x="314.55" y="317.70" font-size="9.5" fill="#868686" text-anchor="middle" font-weight="normal" font-style="normal" >+137</text>
<text x="332.41" y="303.70" font-size="9.5" fill="#000" text-anchor="middle" font-weight="normal" font-style="normal" >+57</text>
<text x="350.27" y="317.70" font-size="9.5" fill="#000" text-anchor="middle" font-weight="normal" font-style="normal" >+40</text>
<text x="368.13" y="303.70" font-size="9.5" fill="#868686" text-anchor="middle" font-weight="normal" font-style="normal" >+32</text>
<text x="385.99" y="317.70" font-size="9.5" fill="#868686" text-anchor="middle" font-weight="normal" font-style="normal" >-28</text>
<text x="403.85" y="303.70" font-size="9.5" fill="#000" text-anchor="middle" font-weight="normal" font-style="normal" >-31</text>
<text x="421.71" y="317.70" font-size="9.5" fill="#868686" text-anchor="middle" font-weight="normal" font-style="normal" >-35</text>
<text x="439.57" y="303.70" font-size="9.5" fill="#868686" text-anchor="middle" font-weight="normal" font-style="normal" >-37</text>
<text x="457.43" y="317.70" font-size="9.5" fill="#868686" text-anchor="middle" font-weight="normal" font-style="normal" >-94</text>
<text x="493.15" y="303.70" font-size="9.5" fill="#000" text-anchor="middle" font-weight="normal" font-style="italic" >HNF4A</text>
<text x="1.50" y="14.00" font-size="15" fill="#000" text-anchor="start" font-weight="bold" font-style="normal" >A</text>
<text x="1.50" y="171.70" font-size="15" fill="#000" text-anchor="start" font-weight="bold" font-style="normal" >B</text>
<text x="1.50" y="341.00" font-size="15" fill="#000" text-anchor="start" font-weight="bold" font-style="normal" >C</text>
<text x="1.50" y="514.30" font-size="15" fill="#000" text-anchor="start" font-weight="bold" font-style="normal" >D</text>
<text x="43.50" y="10.30" font-size="11.8" fill="#000" text-anchor="start" font-weight="bold" font-style="normal"  textLength="57.5" lengthAdjust="spacingAndGlyphs">CTCF 48 hr</text>
<text x="276.30" y="10.30" font-size="11.8" fill="#000" text-anchor="start" font-weight="bold" font-style="normal"  textLength="57.5" lengthAdjust="spacingAndGlyphs">CTCF 96 hr</text>
<text x="40.00" y="178.00" font-size="11.8" fill="#000" text-anchor="start" font-weight="bold" font-style="normal" >RAD21 48 hr</text>
<text x="272.30" y="178.00" font-size="11.8" fill="#000" text-anchor="start" font-weight="bold" font-style="normal" >RAD21 96 hr</text>
<text transform="translate(26.8,79.8) rotate(-90)" font-size="10" text-anchor="middle" textLength="44.6" lengthAdjust="spacingAndGlyphs">ChIP&#160; Fold</text>
<text transform="translate(40.7,77.4) rotate(-90)" font-size="10" text-anchor="middle" textLength="76.6" lengthAdjust="spacingAndGlyphs">Enrichment&#160; log<tspan font-size="6.5" dy="2">2</tspan></text>
<text transform="translate(26.8,249.8) rotate(-90)" font-size="10" text-anchor="middle" textLength="44.6" lengthAdjust="spacingAndGlyphs">ChIP&#160; Fold</text>
<text transform="translate(40.7,247.4) rotate(-90)" font-size="10" text-anchor="middle" textLength="76.6" lengthAdjust="spacingAndGlyphs">Enrichment&#160; log<tspan font-size="6.5" dy="2">2</tspan></text>
<path d="M173.54999999999998,20 H175.65 V33.8 H177.1 L174.6,38 L172.1,33.8 H173.54999999999998 Z" fill="#5a5a5a" stroke="#222" stroke-width="0.8" stroke-linejoin="miter"/>
<text x="180.00" y="30.20" font-size="9" fill="#111" text-anchor="start" font-weight="normal" font-style="normal"  textLength="22.3" lengthAdjust="spacingAndGlyphs">109 %</text>
<path d="M406.45,21 H408.55 V33.8 H410.0 L407.5,38 L405.0,33.8 H406.45 Z" fill="#5a5a5a" stroke="#222" stroke-width="0.8" stroke-linejoin="miter"/>
<text x="412.90" y="31.20" font-size="9" fill="#111" text-anchor="start" font-weight="normal" font-style="normal"  textLength="17.8" lengthAdjust="spacingAndGlyphs">41 %</text>
<path d="M174.14999999999998,190 H176.25 V203.8 H177.7 L175.2,208 L172.7,203.8 H174.14999999999998 Z" fill="#5a5a5a" stroke="#222" stroke-width="0.8" stroke-linejoin="miter"/>
<text x="180.60" y="200.20" font-size="9" fill="#111" text-anchor="start" font-weight="normal" font-style="normal"  textLength="22.3" lengthAdjust="spacingAndGlyphs">125 %</text>
<path d="M406.95,190 H409.05 V203.8 H410.5 L408,208 L405.5,203.8 H406.95 Z" fill="#5a5a5a" stroke="#222" stroke-width="0.8" stroke-linejoin="miter"/>
<text x="413.40" y="200.20" font-size="9" fill="#111" text-anchor="start" font-weight="normal" font-style="normal"  textLength="17.8" lengthAdjust="spacingAndGlyphs">47 %</text>
<text x="407.80" y="87.60" font-size="9" fill="#222" text-anchor="middle" font-weight="bold" font-style="normal" >*</text>
<text x="410.30" y="257.00" font-size="10" fill="#222" text-anchor="middle" font-weight="bold" font-style="normal" >***</text>
<rect x="452.00" y="3.00" width="10.50" height="9.50" fill="#7f7f7f"/>
<rect x="452.00" y="18.00" width="10.50" height="9.50" fill="#000"/>
<text x="468.00" y="12.00" font-size="9.6" fill="#000" text-anchor="start" font-weight="normal" font-style="normal" >LUC</text>
<text x="468.00" y="27.00" font-size="9.6" fill="#000" text-anchor="start" font-weight="normal" font-style="normal" >KD<tspan font-size="6.6" dy="-2.6">GATA1</tspan></text>
<line x1="73.50" y1="352.00" x2="73.50" y2="474.50" stroke="#000" stroke-width="1" />
<line x1="69.50" y1="352.00" x2="73.50" y2="352.00" stroke="#000" stroke-width="1" />
<text x="62.00" y="356.00" font-size="10" fill="#000" text-anchor="end" font-weight="normal" font-style="normal" >1</text>
<line x1="69.50" y1="376.50" x2="73.50" y2="376.50" stroke="#000" stroke-width="1" />
<text x="62.00" y="380.50" font-size="10" fill="#000" text-anchor="end" font-weight="normal" font-style="normal" >0.8</text>
<line x1="69.50" y1="401.00" x2="73.50" y2="401.00" stroke="#000" stroke-width="1" />
<text x="62.00" y="405.00" font-size="10" fill="#000" text-anchor="end" font-weight="normal" font-style="normal" >0.6</text>
<line x1="69.50" y1="425.50" x2="73.50" y2="425.50" stroke="#000" stroke-width="1" />
<text x="62.00" y="429.50" font-size="10" fill="#000" text-anchor="end" font-weight="normal" font-style="normal" >0.4</text>
<line x1="69.50" y1="450.00" x2="73.50" y2="450.00" stroke="#000" stroke-width="1" />
<text x="62.00" y="454.00" font-size="10" fill="#000" text-anchor="end" font-weight="normal" font-style="normal" >0.2</text>
<line x1="69.50" y1="474.50" x2="73.50" y2="474.50" stroke="#000" stroke-width="1" />
<text x="62.00" y="478.50" font-size="10" fill="#000" text-anchor="end" font-weight="normal" font-style="normal" >0</text>
<text transform="translate(19.6,412) rotate(-90)" font-size="10.5" text-anchor="middle" textLength="76" lengthAdjust="spacingAndGlyphs">Relative Ligation</text>
<text transform="translate(33.8,412) rotate(-90)" font-size="10.5" text-anchor="middle" textLength="48" lengthAdjust="spacingAndGlyphs">Frequency</text>
<line x1="73.50" y1="474.50" x2="175.50" y2="474.50" stroke="#000" stroke-width="1" />
<text x="134.40" y="351.00" font-size="11.8" fill="#000" text-anchor="middle" font-weight="bold" font-style="normal"  textLength="52" lengthAdjust="spacingAndGlyphs">LUC 48 hr</text>
<text x="75.00" y="363.00" font-size="9.8" fill="#000" text-anchor="start" font-weight="normal" font-style="normal" >+57</text>
<path d="M81.8,372.5 H85.2 V466 H87.7 L83.5,474.5 L79.3,466 H81.8 Z" fill="#7f7f7f"/>
<rect x="101.00" y="445.47" width="14.50" height="29.03" fill="#7f7f7f"/>
<line x1="108.25" y1="457.47" x2="108.25" y2="432.97" stroke="#1a1a1a" stroke-width="0.9" />
<line x1="106.05" y1="457.47" x2="110.45" y2="457.47" stroke="#1a1a1a" stroke-width="0.9" />
<line x1="106.05" y1="432.97" x2="110.45" y2="432.97" stroke="#1a1a1a" stroke-width="0.9" />
<text x="107.25" y="488.00" font-size="9.8" fill="#000" text-anchor="middle" font-weight="normal" font-style="normal" >-25</text>
<rect x="129.50" y="397.32" width="15.00" height="77.18" fill="#000"/>
<line x1="137.00" y1="397.32" x2="137.00" y2="370.99" stroke="#1a1a1a" stroke-width="0.9" />
<line x1="134.80" y1="397.32" x2="139.20" y2="397.32" stroke="#1a1a1a" stroke-width="0.9" />
<line x1="134.80" y1="370.99" x2="139.20" y2="370.99" stroke="#1a1a1a" stroke-width="0.9" />
<text x="136.00" y="488.00" font-size="9.8" fill="#000" text-anchor="middle" font-weight="normal" font-style="normal" >-31</text>
<rect x="158.50" y="473.03" width="15.00" height="1.47" fill="#7f7f7f"/>
<line x1="166.00" y1="473.89" x2="166.00" y2="471.44" stroke="#1a1a1a" stroke-width="0.9" />
<line x1="163.80" y1="473.89" x2="168.20" y2="473.89" stroke="#1a1a1a" stroke-width="0.9" />
<line x1="163.80" y1="471.44" x2="168.20" y2="471.44" stroke="#1a1a1a" stroke-width="0.9" />
<text x="165.00" y="488.00" font-size="9.8" fill="#000" text-anchor="middle" font-weight="normal" font-style="normal" >-41</text>
<line x1="181.50" y1="474.50" x2="283.50" y2="474.50" stroke="#000" stroke-width="1" />
<text x="245.60" y="351.00" font-size="11.8" fill="#000" text-anchor="middle" font-weight="bold" font-style="normal"  textLength="52" lengthAdjust="spacingAndGlyphs">LUC 96 hr</text>
<text x="184.50" y="363.00" font-size="9.8" fill="#000" text-anchor="start" font-weight="normal" font-style="normal" >+57</text>
<path d="M193.3,372.5 H196.7 V466 H199.2 L195,474.5 L190.8,466 H193.3 Z" fill="#7f7f7f"/>
<rect x="211.00" y="434.07" width="15.50" height="40.43" fill="#7f7f7f"/>
<line x1="218.75" y1="438.98" x2="218.75" y2="429.18" stroke="#1a1a1a" stroke-width="0.9" />
<line x1="216.55" y1="438.98" x2="220.95" y2="438.98" stroke="#1a1a1a" stroke-width="0.9" />
<line x1="216.55" y1="429.18" x2="220.95" y2="429.18" stroke="#1a1a1a" stroke-width="0.9" />
<text x="217.75" y="488.00" font-size="9.8" fill="#000" text-anchor="middle" font-weight="normal" font-style="normal" >-25</text>
<rect x="240.00" y="397.32" width="15.50" height="77.18" fill="#000"/>
<line x1="247.75" y1="397.32" x2="247.75" y2="373.44" stroke="#1a1a1a" stroke-width="0.9" />
<line x1="245.55" y1="397.32" x2="249.95" y2="397.32" stroke="#1a1a1a" stroke-width="0.9" />
<line x1="245.55" y1="373.44" x2="249.95" y2="373.44" stroke="#1a1a1a" stroke-width="0.9" />
<text x="246.75" y="488.00" font-size="9.8" fill="#000" text-anchor="middle" font-weight="normal" font-style="normal" >-31</text>
<rect x="267.50" y="455.51" width="15.50" height="18.99" fill="#7f7f7f"/>
<line x1="275.25" y1="463.48" x2="275.25" y2="447.55" stroke="#1a1a1a" stroke-width="0.9" />
<line x1="273.05" y1="463.48" x2="277.45" y2="463.48" stroke="#1a1a1a" stroke-width="0.9" />
<line x1="273.05" y1="447.55" x2="277.45" y2="447.55" stroke="#1a1a1a" stroke-width="0.9" />
<text x="274.25" y="488.00" font-size="9.8" fill="#000" text-anchor="middle" font-weight="normal" font-style="normal" >-41</text>
<line x1="292.50" y1="474.50" x2="395.00" y2="474.50" stroke="#000" stroke-width="1" />
<text x="356.30" y="351.00" font-size="11.8" fill="#000" text-anchor="middle" font-weight="bold" font-style="normal"  textLength="47" lengthAdjust="spacingAndGlyphs">KD 48 hr</text>
<text x="295.00" y="363.00" font-size="9.8" fill="#000" text-anchor="start" font-weight="normal" font-style="normal" >+57</text>
<path d="M303.3,372.5 H306.7 V466 H309.2 L305,474.5 L300.8,466 H303.3 Z" fill="#7f7f7f"/>
<rect x="323.00" y="417.54" width="15.50" height="56.96" fill="#7f7f7f"/>
<line x1="330.75" y1="426.73" x2="330.75" y2="407.12" stroke="#1a1a1a" stroke-width="0.9" />
<line x1="328.55" y1="426.73" x2="332.95" y2="426.73" stroke="#1a1a1a" stroke-width="0.9" />
<line x1="328.55" y1="407.12" x2="332.95" y2="407.12" stroke="#1a1a1a" stroke-width="0.9" />
<text x="329.75" y="488.00" font-size="9.8" fill="#000" text-anchor="middle" font-weight="normal" font-style="normal" >-25</text>
<rect x="351.00" y="394.02" width="15.00" height="80.48" fill="#000"/>
<line x1="358.50" y1="394.02" x2="358.50" y2="365.48" stroke="#1a1a1a" stroke-width="0.9" />
<line x1="356.30" y1="394.02" x2="360.70" y2="394.02" stroke="#1a1a1a" stroke-width="0.9" />
<line x1="356.30" y1="365.48" x2="360.70" y2="365.48" stroke="#1a1a1a" stroke-width="0.9" />
<text x="357.50" y="488.00" font-size="9.8" fill="#000" text-anchor="middle" font-weight="normal" font-style="normal" >-31</text>
<rect x="379.00" y="467.76" width="15.00" height="6.74" fill="#7f7f7f"/>
<line x1="386.50" y1="470.82" x2="386.50" y2="464.70" stroke="#1a1a1a" stroke-width="0.9" />
<line x1="384.30" y1="470.82" x2="388.70" y2="470.82" stroke="#1a1a1a" stroke-width="0.9" />
<line x1="384.30" y1="464.70" x2="388.70" y2="464.70" stroke="#1a1a1a" stroke-width="0.9" />
<text x="385.50" y="488.00" font-size="9.8" fill="#000" text-anchor="middle" font-weight="normal" font-style="normal" >-41</text>
<line x1="401.00" y1="474.50" x2="505.50" y2="474.50" stroke="#000" stroke-width="1" />
<text x="467.70" y="351.00" font-size="11.8" fill="#000" text-anchor="middle" font-weight="bold" font-style="normal"  textLength="47" lengthAdjust="spacingAndGlyphs">KD 96 hr</text>
<text x="407.50" y="363.00" font-size="9.8" fill="#000" text-anchor="start" font-weight="normal" font-style="normal" >+57</text>
<path d="M415.8,372.5 H419.2 V466 H421.7 L417.5,474.5 L413.3,466 H415.8 Z" fill="#7f7f7f"/>
<rect x="435.00" y="465.31" width="14.50" height="9.19" fill="#7f7f7f"/>
<line x1="442.25" y1="468.99" x2="442.25" y2="461.64" stroke="#1a1a1a" stroke-width="0.9" />
<line x1="440.05" y1="468.99" x2="444.45" y2="468.99" stroke="#1a1a1a" stroke-width="0.9" />
<line x1="440.05" y1="461.64" x2="444.45" y2="461.64" stroke="#1a1a1a" stroke-width="0.9" />
<text x="441.25" y="488.00" font-size="9.8" fill="#000" text-anchor="middle" font-weight="normal" font-style="normal" >-25</text>
<rect x="462.50" y="448.04" width="15.00" height="26.46" fill="#000"/>
<line x1="470.00" y1="448.04" x2="470.00" y2="440.20" stroke="#1a1a1a" stroke-width="0.9" />
<line x1="467.80" y1="448.04" x2="472.20" y2="448.04" stroke="#1a1a1a" stroke-width="0.9" />
<line x1="467.80" y1="440.20" x2="472.20" y2="440.20" stroke="#1a1a1a" stroke-width="0.9" />
<text x="469.00" y="488.00" font-size="9.8" fill="#000" text-anchor="middle" font-weight="normal" font-style="normal" >-31</text>
<rect x="491.00" y="468.38" width="14.50" height="6.12" fill="#7f7f7f"/>
<line x1="498.25" y1="470.82" x2="498.25" y2="465.93" stroke="#1a1a1a" stroke-width="0.9" />
<line x1="496.05" y1="470.82" x2="500.45" y2="470.82" stroke="#1a1a1a" stroke-width="0.9" />
<line x1="496.05" y1="465.93" x2="500.45" y2="465.93" stroke="#1a1a1a" stroke-width="0.9" />
<text x="497.25" y="488.00" font-size="9.8" fill="#000" text-anchor="middle" font-weight="normal" font-style="normal" >-41</text>
<text x="469.50" y="437.00" font-size="9" fill="#222" text-anchor="middle" font-weight="normal" font-style="normal" >**</text>
<path d="M425,374.8 Q448,383 465.3,407.5" fill="none" stroke="#7f7f7f" stroke-width="1.2" stroke-dasharray="1.6 1.6"/>
<path d="M422,373.2 l5.8,-1 l-2,5.2 z" fill="#7f7f7f"/>
<path d="M467.3,410.3 l-5.2,-2.2 l4,-3.2 z" fill="#7f7f7f"/>
<line x1="437.00" y1="384.50" x2="452.40" y2="384.50" stroke="#000" stroke-width="2.1" />
<line x1="444.70" y1="377.00" x2="444.70" y2="392.50" stroke="#000" stroke-width="2.1" />
<defs>
<pattern id="dots" width="2.2" height="2.2" patternUnits="userSpaceOnUse"><rect width="2.2" height="2.2" fill="#eaeaea"/><circle cx="0.6" cy="0.6" r="0.45" fill="#c6c6c6"/><circle cx="1.7" cy="1.7" r="0.4" fill="#d0d0d0"/></pattern>
<linearGradient id="ctcf" x1="0" y1="0.1" x2="1" y2="0.9"><stop offset="0" stop-color="#6e6e6e"/><stop offset="1" stop-color="#c4c4c4"/></linearGradient>
</defs>
<line x1="7.3" y1="528.8" x2="17.5" y2="528.8" stroke="#6a6a6a" stroke-width="1.7" stroke-dasharray="3.6 1.6"/>
<path d="M23.6,528.8 l-5.6,-2.5 v5 z" fill="#6a6a6a"/>
<text x="28.00" y="532.00" font-size="9.6" fill="#000" text-anchor="start" font-weight="normal" font-style="normal" >transcription</text>
<line x1="7.3" y1="540.8" x2="21" y2="540.8" stroke="#000" stroke-width="2.4"/>
<path d="M23.6,540.8 l-3.6,-2.1 v4.2 z" fill="#000"/>
<text x="28.00" y="544.00" font-size="9.6" fill="#000" text-anchor="start" font-weight="normal" font-style="normal" >promoter</text>
<line x1="7.3" y1="552.8" x2="21" y2="552.8" stroke="#747474" stroke-width="2.3"/>
<path d="M23.6,552.8 l-3.6,-2.1 v4.2 z" fill="#747474"/>
<text x="28.00" y="556.00" font-size="9.6" fill="#000" text-anchor="start" font-weight="normal" font-style="normal"  textLength="36.8" lengthAdjust="spacingAndGlyphs">enhancer</text>
<path d="M7.6,562.5 H19.3 V561.3 L23.4,563.8 L19.3,566.3 V565.0999999999999 H7.6 Z" fill="#fff" stroke="#000" stroke-width="1"/>
<text x="28.00" y="567.00" font-size="9.6" fill="#000" text-anchor="start" font-weight="normal" font-style="italic" >insulator</text>
<g transform="rotate(0 17.2 606.9)"><ellipse cx="17.2" cy="606.9" rx="15.3" ry="5.1" fill="url(#dots)" stroke="#000" stroke-width="1.8"/><ellipse cx="17.2" cy="606.9" rx="13.8" ry="3.5999999999999996" fill="none" stroke="#fff" stroke-opacity="0.75" stroke-width="1.3"/></g>
<text x="36.80" y="610.10" font-size="9" fill="#000" text-anchor="start" font-weight="normal" font-style="normal"  textLength="14" lengthAdjust="spacingAndGlyphs">TEC</text>
<circle cx="17.2" cy="627.6" r="6.7" fill="#787878" stroke="#585858" stroke-width="0.9"/>
<text x="36.70" y="630.90" font-size="9" fill="#000" text-anchor="start" font-weight="normal" font-style="normal"  textLength="26" lengthAdjust="spacingAndGlyphs">GATA1</text>
<g transform="rotate(0 17 645.2)"><ellipse cx="17" cy="645.2" rx="9.5" ry="4.6" fill="#333" stroke="#000" stroke-width="1.2"/></g>
<text x="36.70" y="649.00" font-size="9" fill="#000" text-anchor="start" font-weight="normal" font-style="normal"  textLength="26" lengthAdjust="spacingAndGlyphs">RAD21</text>
<ellipse cx="17" cy="662.4" rx="5.1" ry="7.4" fill="url(#ctcf)"/>
<text x="36.70" y="665.50" font-size="9" fill="#000" text-anchor="start" font-weight="normal" font-style="normal"  textLength="18.6" lengthAdjust="spacingAndGlyphs">CTCF</text>
<ellipse cx="142.8" cy="616.6" rx="4.8" ry="14" fill="#929292"/>
<ellipse cx="146.3" cy="616.5" rx="4.5" ry="7.5" fill="#929292"/>
<path d="M133.4,645.2 V608.5 Q133.4,601.3 126,601.3 H81.3 A10.8,10.85 0 0 1 81.3,579.5 H125 Q132.8,579.5 132.8,571.5 V560 C133,543 136.8,535.6 143.1,535.6 C149.4,535.6 153.2,543 153.4,560 V571.5 Q153.6,579.3 162,579.3 H201.6 A13,11.1 0 0 1 201.6,601.5 H169 Q154.5,601.5 154.5,614 V645.2" fill="none" stroke="#000" stroke-width="3.2" stroke-linecap="butt" stroke-linejoin="round"/>
<g transform="rotate(-45.5 142.7 590)"><ellipse cx="142.7" cy="590" rx="20.7" ry="7.1" fill="url(#dots)" stroke="#000" stroke-width="1.5"/><ellipse cx="142.7" cy="590" rx="19.2" ry="5.6" fill="none" stroke="#fff" stroke-opacity="0.75" stroke-width="1.3"/></g>
<line x1="123.84" y1="566.42" x2="131.59" y2="573.65" stroke="#5c5c5c" stroke-width="2.2" />
<line x1="121.72" y1="568.69" x2="129.48" y2="575.91" stroke="#5c5c5c" stroke-width="2.2" />
<line x1="119.61" y1="570.95" x2="127.36" y2="578.18" stroke="#5c5c5c" stroke-width="2.2" />
<circle cx="134.9" cy="581.3" r="6.5" fill="#787878" stroke="#585858" stroke-width="0.9"/>
<line x1="150.00" y1="579.80" x2="162.20" y2="569.60" stroke="#000" stroke-width="4" />
<line x1="153.80" y1="572.90" x2="158.80" y2="579.60" stroke="#000" stroke-width="2.2" />
<line x1="124.20" y1="606.60" x2="131.60" y2="601.20" stroke="#6f6f6f" stroke-width="2.2" />
<g transform="rotate(0 133.4 611.4)"><ellipse cx="133.4" cy="611.4" rx="9.1" ry="4.5" fill="#333" stroke="#000" stroke-width="1.2"/><line x1="127.60000000000001" y1="611.4" x2="139.20000000000002" y2="611.4" stroke="#fff" stroke-width="1.1" transform="rotate(-10 133.4 611.4)"/></g>
<g transform="rotate(0 133.4 622.7)"><ellipse cx="133.4" cy="622.7" rx="9.1" ry="4.5" fill="#333" stroke="#000" stroke-width="1.2"/><line x1="127.60000000000001" y1="622.7" x2="139.20000000000002" y2="622.7" stroke="#fff" stroke-width="1.1" transform="rotate(0 133.4 622.7)"/></g>
<g transform="rotate(0 153.4 617.1)"><ellipse cx="153.4" cy="617.1" rx="8.8" ry="4.7" fill="#333" stroke="#000" stroke-width="1.2"/><line x1="147.6" y1="617.1" x2="159.20000000000002" y2="617.1" stroke="#fff" stroke-width="1.1" transform="rotate(0 153.4 617.1)"/></g>
<line x1="100.6" y1="593.3" x2="100.6" y2="606" stroke="#000" stroke-width="1.9"/>
<path d="M100.6,609.2 l-2.2,-3.8 h4.4 z" fill="#000"/>
<g transform="translate(104.69999999999999,642.2) rotate(-90)"><text x="0" y="0" font-size="8.8" stroke="#000" stroke-width="0.3">P</text><text x="5.3" y="-1.9" font-size="6.4" stroke="#000" stroke-width="0.28" textLength="25.3" lengthAdjust="spacingAndGlyphs">PDZK1IP1</text></g>
<text x="107.70" y="610.70" font-size="8.3" fill="#868686" text-anchor="start" font-weight="normal" font-style="normal"  textLength="13.2" lengthAdjust="spacingAndGlyphs">+51</text>
<text x="107.00" y="619.50" font-size="8.3" fill="#000" text-anchor="start" font-weight="bold" font-style="italic"  textLength="13.6" lengthAdjust="spacingAndGlyphs">+53</text>
<text x="107.00" y="628.20" font-size="8.3" fill="#000" text-anchor="start" font-weight="bold" font-style="italic"  textLength="13.6" lengthAdjust="spacingAndGlyphs">+57</text>
<text x="165.60" y="619.70" font-size="8.3" fill="#000" text-anchor="start" font-weight="bold" font-style="italic"  textLength="11.6" lengthAdjust="spacingAndGlyphs">-31</text>
<g transform="translate(168.8,558.6) rotate(-37.7)"><text x="0" y="0" font-size="8.8" stroke="#000" stroke-width="0.3">P</text><text x="5.3" y="-1.9" font-size="6.4" stroke="#000" stroke-width="0.28" textLength="21.2" lengthAdjust="spacingAndGlyphs">TAL1-1b</text><text x="0.9" y="7.8" font-size="8.8" stroke="#000" stroke-width="0.3">P</text><text x="6.2" y="5.9" font-size="6.4" stroke="#000" stroke-width="0.28" textLength="21.2" lengthAdjust="spacingAndGlyphs">TAL1-1a</text></g>
<text x="159.00" y="530.30" font-size="8.3" fill="#868686" text-anchor="start" font-weight="normal" font-style="italic"  textLength="18.5" lengthAdjust="spacingAndGlyphs">TAL1</text>
<path d="M159.7,566 Q159.9,556 159,548 Q156.5,527.3 144.5,526.6 Q140.5,526.8 138.2,529" fill="none" stroke="#737373" stroke-width="1.5" stroke-dasharray="3.2 1.9"/>
<path d="M0,0 L6,-3 L4.6,0 L6,3 Z" transform="translate(133.8,532.6) rotate(-38)" fill="#737373"/>
<text transform="translate(120.6,555) rotate(-135)" x="0" y="2.9" font-size="8" fill="#7a7a7a" text-anchor="middle">+19</text>
<text transform="translate(114.9,560.9) rotate(-135)" x="0" y="2.9" font-size="8" fill="#7a7a7a" text-anchor="middle">+20</text>
<text transform="translate(108.2,567.1) rotate(-135)" x="0" y="2.9" font-size="8" fill="#7a7a7a" text-anchor="middle">+21</text>
<text x="111.30" y="668.60" font-size="11.6" fill="#000" text-anchor="start" font-weight="normal" font-style="normal"  textLength="43.2" lengthAdjust="spacingAndGlyphs">Erythroid</text>
<ellipse cx="296.5" cy="611.5" rx="5" ry="5.2" fill="#929292"/>
<ellipse cx="297.3" cy="631.8" rx="5.2" ry="5.4" fill="#929292"/>
<ellipse cx="304.2" cy="618.6" rx="5.8" ry="6.2" fill="#929292"/>
<path d="M289.8,645 V609 Q289.8,601.6 282.5,601.6 H236.3 A10.8,10.75 0 0 1 236.3,580.1 H272 Q281.5,580.1 284.2,570 V566.3 A17.4,17.3 0 0 1 319.2,566.3 V586 Q319.2,598.3 332.5,598.3 H360.4 A10.6,10.45 0 0 1 360.4,619.2 H327.7 Q309,619.2 309,636 V645" fill="none" stroke="#000" stroke-width="3.2" stroke-linecap="butt" stroke-linejoin="round"/>
<g transform="rotate(0 302.5 599.7)"><ellipse cx="302.5" cy="599.7" rx="18" ry="7" fill="url(#dots)" stroke="#000" stroke-width="1.5"/><ellipse cx="302.5" cy="599.7" rx="16.5" ry="5.5" fill="none" stroke="#fff" stroke-opacity="0.75" stroke-width="1.3"/></g>
<circle cx="264" cy="554.8" r="7" fill="#787878" stroke="#585858" stroke-width="0.9"/>
<line x1="276.13" y1="566.63" x2="288.37" y2="573.42" stroke="#5c5c5c" stroke-width="2.2" />
<line x1="274.48" y1="569.61" x2="286.72" y2="576.39" stroke="#5c5c5c" stroke-width="2.2" />
<line x1="272.83" y1="572.58" x2="285.07" y2="579.37" stroke="#5c5c5c" stroke-width="2.2" />
<line x1="314.60" y1="597.80" x2="328.50" y2="590.60" stroke="#000" stroke-width="4" />
<line x1="319.30" y1="591.00" x2="324.50" y2="599.50" stroke="#000" stroke-width="2.2" />
<line x1="277.60" y1="606.20" x2="292.00" y2="600.00" stroke="#6f6f6f" stroke-width="2.2" />
<g transform="rotate(0 288.5 615.8)"><ellipse cx="288.5" cy="615.8" rx="8.8" ry="4.6" fill="#333" stroke="#000" stroke-width="1.2"/><line x1="282.7" y1="615.8" x2="294.3" y2="615.8" stroke="#fff" stroke-width="1.1" transform="rotate(-10 288.5 615.8)"/></g>
<g transform="rotate(0 288.7 627.3)"><ellipse cx="288.7" cy="627.3" rx="8.8" ry="4.6" fill="#333" stroke="#000" stroke-width="1.2"/><line x1="282.9" y1="627.3" x2="294.5" y2="627.3" stroke="#fff" stroke-width="1.1" transform="rotate(0 288.7 627.3)"/></g>
<g transform="rotate(38.4 311.7 626.2)"><ellipse cx="311.7" cy="626.2" rx="9.8" ry="4.5" fill="#333" stroke="#000" stroke-width="1.2"/><line x1="305.9" y1="626.2" x2="317.5" y2="626.2" stroke="#fff" stroke-width="1.1" transform="rotate(0 311.7 626.2)"/></g>
<line x1="258" y1="593.3" x2="258" y2="606" stroke="#000" stroke-width="1.9"/>
<path d="M258,609.2 l-2.2,-3.8 h4.4 z" fill="#000"/>
<g transform="translate(261,642.2) rotate(-90)"><text x="0" y="0" font-size="8.8" stroke="#000" stroke-width="0.3">P</text><text x="5.3" y="-1.9" font-size="6.4" stroke="#000" stroke-width="0.28" textLength="25.3" lengthAdjust="spacingAndGlyphs">PDZK1IP1</text></g>
<text x="263.30" y="611.80" font-size="8.3" fill="#868686" text-anchor="start" font-weight="normal" font-style="normal"  textLength="13.2" lengthAdjust="spacingAndGlyphs">+51</text>
<text x="262.60" y="621.00" font-size="8.3" fill="#000" text-anchor="start" font-weight="bold" font-style="italic"  textLength="13.6" lengthAdjust="spacingAndGlyphs">+53</text>
<text x="262.60" y="630.50" font-size="8.3" fill="#000" text-anchor="start" font-weight="bold" font-style="italic"  textLength="13.6" lengthAdjust="spacingAndGlyphs">+57</text>
<text x="321.40" y="635.60" font-size="8.3" fill="#000" text-anchor="start" font-weight="bold" font-style="italic"  textLength="11.6" lengthAdjust="spacingAndGlyphs">-31</text>
<text x="289.60" y="573.10" font-size="8.3" fill="#868686" text-anchor="start" font-weight="normal" font-style="normal" >+19</text>
<text x="289.60" y="581.40" font-size="8.3" fill="#868686" text-anchor="start" font-weight="normal" font-style="normal" >+20</text>
<text x="289.60" y="589.50" font-size="8.3" fill="#868686" text-anchor="start" font-weight="normal" font-style="normal" >+21</text>
<g transform="translate(336.6,582.3) rotate(-35)"><text x="0" y="0" font-size="8.8" stroke="#000" stroke-width="0.3">P</text><text x="5.3" y="-1.9" font-size="6.4" stroke="#000" stroke-width="0.28" textLength="21.2" lengthAdjust="spacingAndGlyphs">TAL1-1b</text><text x="0.9" y="8.1" font-size="8.8" stroke="#000" stroke-width="0.3">P</text><text x="6.2" y="6.199999999999999" font-size="6.4" stroke="#000" stroke-width="0.28" textLength="21.2" lengthAdjust="spacingAndGlyphs">TAL1-1a</text></g>
<text x="326.00" y="547.20" font-size="8.3" fill="#868686" text-anchor="start" font-weight="normal" font-style="italic"  textLength="18.5" lengthAdjust="spacingAndGlyphs">TAL1</text>
<path d="M325.4,589.5 V559 Q325,544 311,543.8 H306" fill="none" stroke="#737373" stroke-width="1.5" stroke-dasharray="3.2 1.9"/>
<path d="M0,0 L6,-3 L4.6,0 L6,3 Z" transform="translate(301.3,543.8) rotate(0)" fill="#737373"/>
<path d="M251.2,554.2 Q238.5,549.5 234.6,535" fill="none" stroke="#6a6a6a" stroke-width="1.9"/>
<path d="M0,0 L3.6,7.6 L0,5.8 L-3.6,7.6 Z" transform="translate(233.3,529.6) rotate(-12)" fill="#6a6a6a"/>
<text x="244.8" y="667.8" font-size="11.2"><tspan textLength="57.7" lengthAdjust="spacingAndGlyphs">Erythroid KD</tspan><tspan font-size="7" dy="-3.8">GATA1-48 hr</tspan></text>
<ellipse cx="442.3" cy="612" rx="4.3" ry="7" fill="#929292"/>
<ellipse cx="442.8" cy="631.5" rx="4.3" ry="7" fill="#929292"/>
<path d="M435.2,645 V610 Q435.2,601 426.5,601 H384.9 A12.8,13.3 0 0 1 384.9,574.4 H417 Q427,574.4 429.6,564 V560.7 A16.7,16.7 0 0 1 462.3,556 C464.6,562 464.4,568 466,574 Q468.8,584.4 479.5,584.4 H498.5 A18.6,16.5 0 0 1 498.5,617.2 H496 Q476.2,617.8 476.2,636 V645" fill="none" stroke="#000" stroke-width="3.2" stroke-linecap="butt" stroke-linejoin="round"/>
<line x1="422.06" y1="561.56" x2="434.64" y2="569.73" stroke="#5c5c5c" stroke-width="2.2" />
<line x1="420.21" y1="564.42" x2="432.79" y2="572.58" stroke="#5c5c5c" stroke-width="2.2" />
<line x1="418.36" y1="567.27" x2="430.94" y2="575.44" stroke="#5c5c5c" stroke-width="2.2" />
<line x1="476.70" y1="576.30" x2="474.60" y2="591.40" stroke="#000" stroke-width="4.1" />
<line x1="425.00" y1="605.80" x2="438.00" y2="599.50" stroke="#6f6f6f" stroke-width="2.2" />
<g transform="rotate(0 435.6 616.5)"><ellipse cx="435.6" cy="616.5" rx="9.1" ry="4.6" fill="#333" stroke="#000" stroke-width="1.2"/><line x1="429.8" y1="616.5" x2="441.40000000000003" y2="616.5" stroke="#fff" stroke-width="1.1" transform="rotate(-11 435.6 616.5)"/></g>
<g transform="rotate(0 435.6 627.7)"><ellipse cx="435.6" cy="627.7" rx="9.1" ry="4.6" fill="#333" stroke="#000" stroke-width="1.2"/><line x1="429.8" y1="627.7" x2="441.40000000000003" y2="627.7" stroke="#fff" stroke-width="1.1" transform="rotate(0 435.6 627.7)"/></g>
<line x1="403.5" y1="593.3" x2="403.5" y2="606" stroke="#000" stroke-width="1.9"/>
<path d="M403.5,609.2 l-2.2,-3.8 h4.4 z" fill="#000"/>
<g transform="translate(406.5,642.2) rotate(-90)"><text x="0" y="0" font-size="8.8" stroke="#000" stroke-width="0.3">P</text><text x="5.3" y="-1.9" font-size="6.4" stroke="#000" stroke-width="0.28" textLength="25.3" lengthAdjust="spacingAndGlyphs">PDZK1IP1</text></g>
<text x="409.10" y="611.80" font-size="8.3" fill="#868686" text-anchor="start" font-weight="normal" font-style="normal"  textLength="13.2" lengthAdjust="spacingAndGlyphs">+51</text>
<text x="408.40" y="621.00" font-size="8.3" fill="#000" text-anchor="start" font-weight="bold" font-style="italic"  textLength="13.6" lengthAdjust="spacingAndGlyphs">+53</text>
<text x="408.40" y="630.40" font-size="8.3" fill="#000" text-anchor="start" font-weight="bold" font-style="italic"  textLength="13.6" lengthAdjust="spacingAndGlyphs">+57</text>
<text x="488.50" y="634.00" font-size="8.3" fill="#000" text-anchor="start" font-weight="bold" font-style="italic"  textLength="11.6" lengthAdjust="spacingAndGlyphs">-31</text>
<text x="435.30" y="573.00" font-size="8.3" fill="#868686" text-anchor="start" font-weight="normal" font-style="normal" >+19</text>
<text x="435.30" y="581.50" font-size="8.3" fill="#868686" text-anchor="start" font-weight="normal" font-style="normal" >+20</text>
<text x="435.30" y="590.00" font-size="8.3" fill="#868686" text-anchor="start" font-weight="normal" font-style="normal" >+21</text>
<g transform="translate(486,570.8) rotate(-35)"><text x="0" y="0" font-size="8.8" stroke="#000" stroke-width="0.3">P</text><text x="5.3" y="-1.9" font-size="6.4" stroke="#000" stroke-width="0.28" textLength="21.2" lengthAdjust="spacingAndGlyphs">TAL1-1b</text><text x="0.9" y="8.1" font-size="8.8" stroke="#000" stroke-width="0.3">P</text><text x="6.2" y="6.199999999999999" font-size="6.4" stroke="#000" stroke-width="0.28" textLength="21.2" lengthAdjust="spacingAndGlyphs">TAL1-1a</text></g>
<text x="472.30" y="541.30" font-size="8.3" fill="#868686" text-anchor="start" font-weight="normal" font-style="italic"  textLength="18.5" lengthAdjust="spacingAndGlyphs">TAL1</text>
<path d="M471.5,575 V553 Q471,539.5 458,539 H452" fill="none" stroke="#737373" stroke-width="1.5" stroke-dasharray="3.2 1.9"/>
<path d="M0,0 L6,-3 L4.6,0 L6,3 Z" transform="translate(447,538.7) rotate(0)" fill="#737373"/>
<path d="M-8.5,-1.8 H5 L8.5,0.3 L5,1.8 H-8.5 Z" transform="translate(476.8,628) rotate(21.5)" fill="#fff" stroke="#000" stroke-width="1.1"/>
<ellipse cx="386.5" cy="536.2" rx="5.3" ry="7.9" fill="url(#ctcf)"/>
<g transform="rotate(0 407.3 538.5)"><ellipse cx="407.3" cy="538.5" rx="10.1" ry="5.2" fill="#333" stroke="#000" stroke-width="1.2"/></g>
<g transform="rotate(0 399.5 555.8)"><ellipse cx="399.5" cy="555.8" rx="17.6" ry="6.7" fill="url(#dots)" stroke="#000" stroke-width="1.5"/><ellipse cx="399.5" cy="555.8" rx="16.1" ry="5.2" fill="none" stroke="#fff" stroke-opacity="0.75" stroke-width="1.3"/></g>
<path d="M377,535.8 Q363.5,531.5 359.8,516" fill="none" stroke="#6a6a6a" stroke-width="1.9"/>
<path d="M0,0 L3.6,7.6 L0,5.8 L-3.6,7.6 Z" transform="translate(358.7,510.6) rotate(-10)" fill="#6a6a6a"/>
<path d="M376,555.5 Q361.5,551.5 358.4,537" fill="none" stroke="#6a6a6a" stroke-width="1.9"/>
<path d="M0,0 L3.6,7.6 L0,5.8 L-3.6,7.6 Z" transform="translate(357.3,531.7) rotate(-10)" fill="#6a6a6a"/>
<path d="M420.2,535 Q434,531 437.4,516" fill="none" stroke="#6a6a6a" stroke-width="1.9"/>
<path d="M0,0 L3.6,7.6 L0,5.8 L-3.6,7.6 Z" transform="translate(438.5,510.6) rotate(10)" fill="#6a6a6a"/>
<text x="393.2" y="667.8" font-size="11.2"><tspan textLength="58.5" lengthAdjust="spacingAndGlyphs">Erythroid KD</tspan><tspan font-size="7" dy="-3.8">GATA1-96 hr</tspan></text>
</svg>
</body></html>
